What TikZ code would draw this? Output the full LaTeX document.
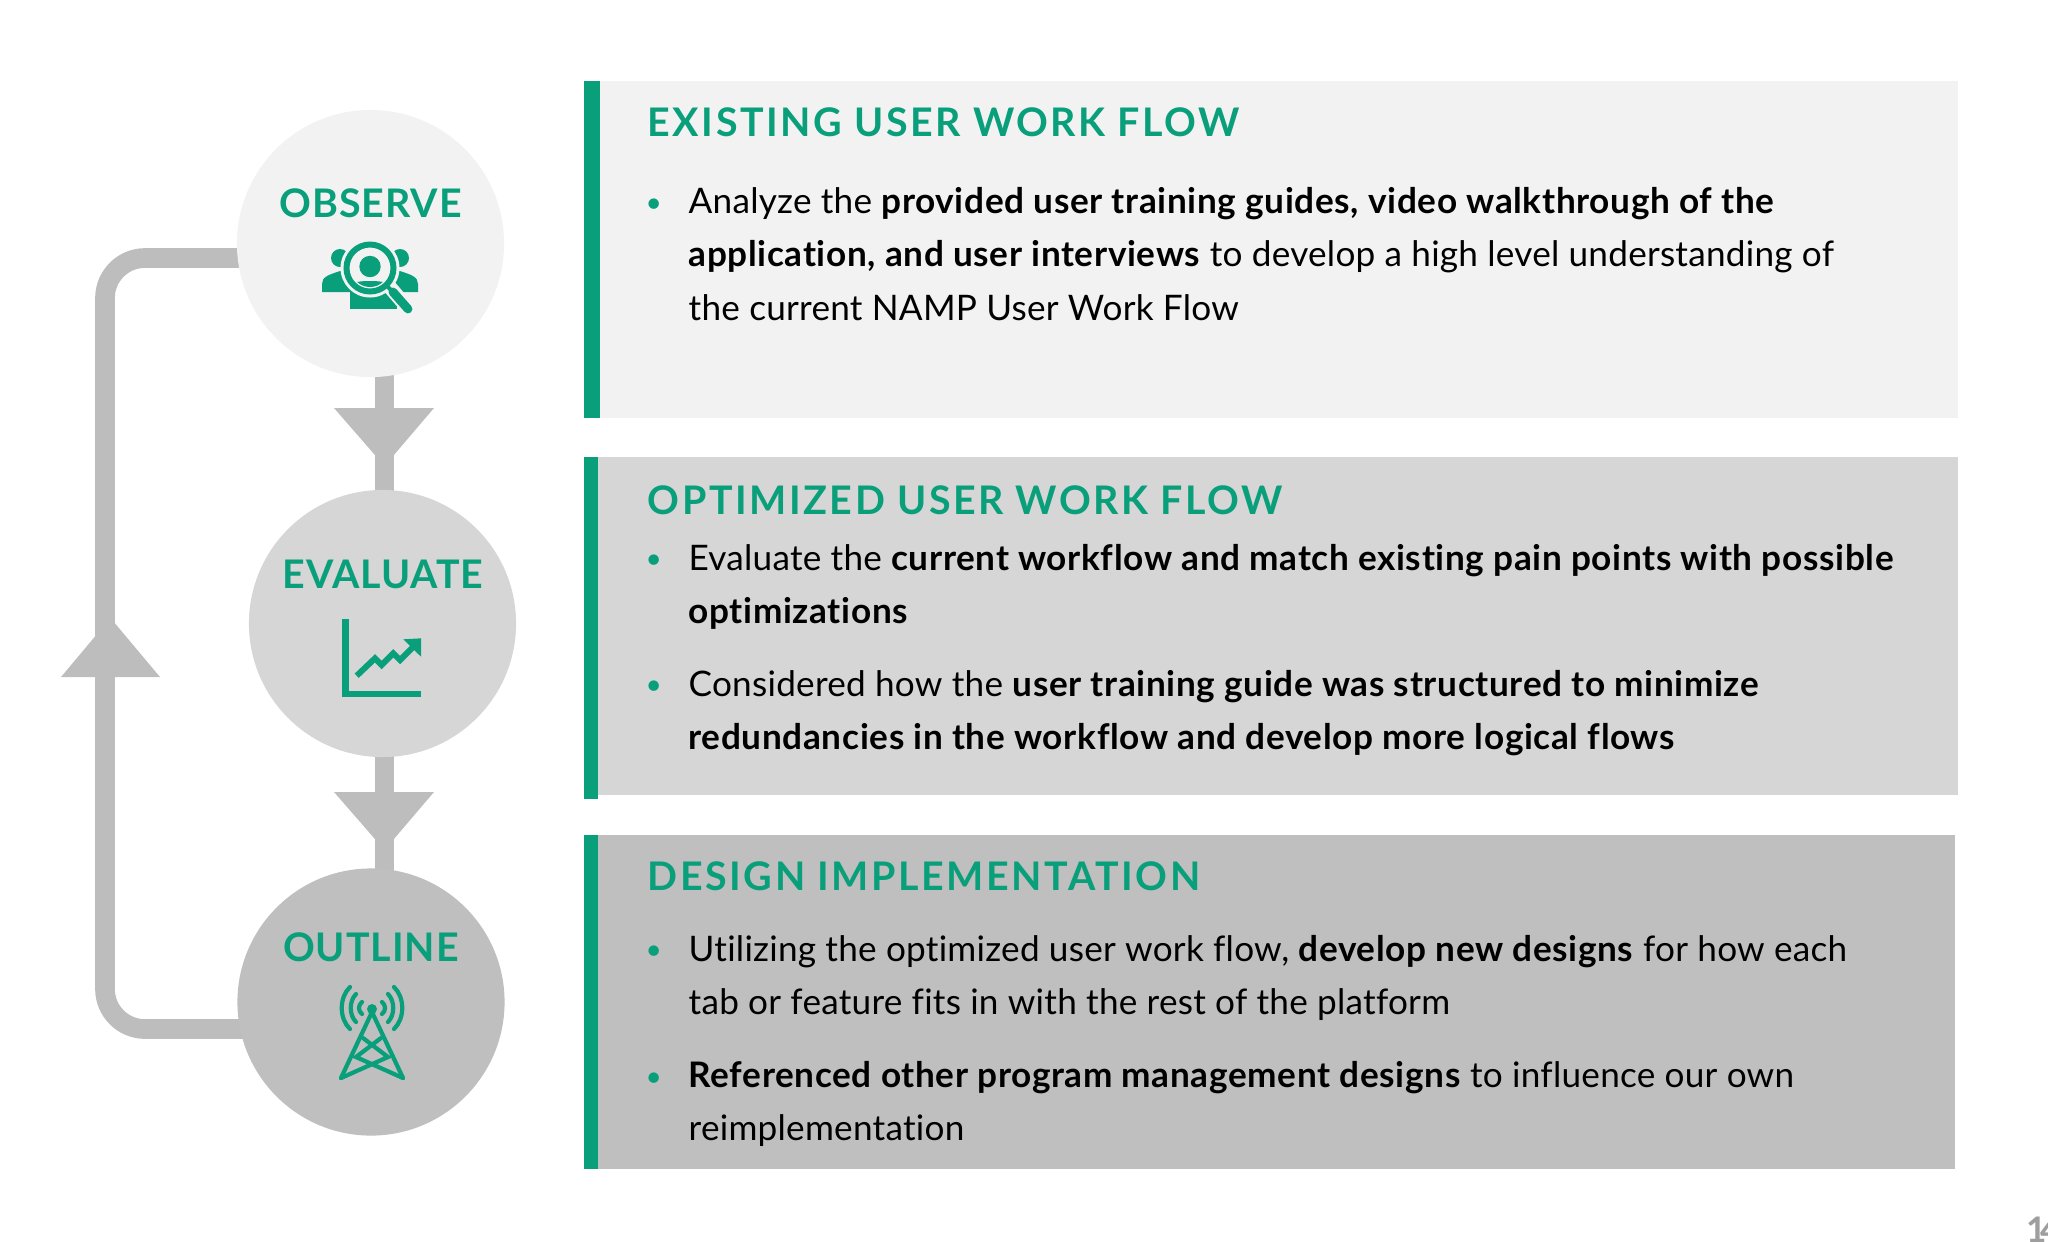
\documentclass[tikz,border=0pt]{standalone}
\usepackage{fontspec}
\setmainfont{Lato}[Ligatures=NoCommon]
\usetikzlibrary{backgrounds}
\definecolor{flowgreen}{HTML}{0A9F7B}
\definecolor{flowgrey}{HTML}{BDBDBD}
\definecolor{paneA}{HTML}{F2F2F2}
\definecolor{paneB}{HTML}{D6D6D6}
\definecolor{paneC}{HTML}{BFBFBF}
\newfontfamily\headfont[LetterSpace=6.5,Ligatures=NoCommon]{Lato}
\newfontfamily\labelfont[LetterSpace=2.5,Ligatures=NoCommon]{Lato}
\newfontfamily\bodyfont[Ligatures=NoCommon,LetterSpace=0.7,BoldFeatures={LetterSpace=1.8}]{Lato}
\tikzset{
  stage/.style={circle,inner sep=0pt,minimum size=2.67cm},
  stagelabel/.style={anchor=base,inner sep=0pt,text=flowgreen,font=\labelfont\fontsize{11.2}{13}\selectfont\bfseries},
  panehead/.style={anchor=base west,inner sep=0pt,text=flowgreen,font=\headfont\fontsize{11.2}{13}\selectfont\bfseries},
  panetext/.style={anchor=north west,inner sep=0pt,align=left,font=\bodyfont\fontsize{10}{15.2}\selectfont},
  panedot/.style={anchor=base west,inner sep=0pt,text=flowgreen,font=\bodyfont\fontsize{8}{10}\selectfont},
  flowline/.style={draw=flowgrey,line width=5.6pt},
}
\begin{document}
\begin{tikzpicture}[x=0.01cm,y=-0.01cm,line cap=butt,line join=miter]
  \useasboundingbox (0,0) rectangle (2048,1241);

  % Stages
  \node[stage,fill=paneA] (observe) at (370.5,243.5) {};
  \node[stage,fill=paneB] (evaluate) at (382.5,623.5) {};
  \node[stage,fill=paneC] (outline) at (371,1002) {};
  \node[stagelabel] (observelabel) at (370.5,217) {OBSERVE};
  \node[stagelabel] (evaluatelabel) at (383,588) {EVALUATE};
  \node[stagelabel] (outlinelabel) at (371,961) {OUTLINE};

  % Connectors behind the stages
  \coordinate (stem) at (384.5,0);
  \coordinate (loopbottom) at (105,1029);
  \coordinate (looptop) at (105,258);
  \begin{scope}[on background layer]
    \draw[flowline] (stem |- observe) -- (stem |- evaluate);
    \draw[flowline] (stem |- evaluate) -- (stem |- outline);
    \draw[flowline,rounded corners=0.4cm] (outline |- loopbottom) -- (loopbottom) -- (looptop) -- (observe |- looptop);
    \fill[flowgrey] (334,408) -- (434,408) -- (384.5,466) -- cycle;
    \fill[flowgrey] (334,792) -- (434,792) -- (384.5,850) -- cycle;
    \fill[flowgrey] (61,677) -- (160,677) -- (110.5,618) -- cycle;
  \end{scope}

  % Observe icon
  \fill[flowgreen] (322,292) -- (322,284) .. controls (322,277) and (328,275) .. (340,271) .. controls (345,270) and (352,272) .. (356,276) -- (352,292) -- cycle;
  \fill[flowgreen] (418,292) -- (418,284) .. controls (418,277) and (412,275) .. (400,271) .. controls (395,270) and (388,272) .. (384,276) -- (388,292) -- cycle;
  \fill[flowgreen] (340,258) circle (9);
  \fill[flowgreen] (400,258) circle (9);
  \fill[flowgreen] (350,290) rectangle (397,309);
  \fill[paneA] (370,268) circle (29.5);
  \draw[paneA,line width=4pt] (388,285) -- (412,313);
  \draw[flowgreen,line width=1.7pt] (370,268) circle (23.5);
  \fill[flowgreen] (370,266.5) circle (10.7);
  \begin{scope}
    \clip (370,268) circle (19);
    \fill[flowgreen] (345,295) .. controls (345,282) and (358,281) .. (370,281) .. controls (382,281) and (395,282) .. (395,295) -- cycle;
  \end{scope}
  \draw[flowgreen,line width=1.2pt] (386,285) -- (393,292);
  \draw[flowgreen,line width=2.5pt,line cap=round] (393,292) -- (408,309);

  % Evaluate icon
  \draw[flowgreen,line width=1.9pt] (345.8,619.3) -- (345.8,694) -- (421,694);
  \draw[flowgreen,line width=1.7pt] (356.7,675.7) -- (375,658.3) -- (381.7,665) -- (393.3,653.3) -- (400,660) -- (413,647);
  \fill[flowgreen] (403.3,639.3) -- (421,638.3) -- (421,656.7) -- cycle;

  % Outline icon
  \begin{scope}[flowgreen,line width=1.2pt,line cap=round]
    \draw (341,1078) -- (372,1012) -- (403,1078);
    \draw (341,1078) -- (388,1057) -- (363,1038);
    \draw (403,1078) -- (356,1057) -- (381,1038);
    \fill (372,1009) circle (5);
    \foreach \sw in {-1,1}
      \foreach \near/\far/\hy in {10/14/6,16/23/14,22/33/21}
        \draw ({372+\sw*\near},{1008-\hy}) .. controls ({372+\sw*\far},{1008-0.5*\hy}) and ({372+\sw*\far},{1008+0.5*\hy}) .. ({372+\sw*\near},{1008+\hy});
  \end{scope}

  % Panels
  \fill[paneA] (599,81) rectangle (1958,418);
  \fill[paneB] (598,457) rectangle (1958,795);
  \fill[paneC] (598,835) rectangle (1955,1169);
  \fill[flowgreen] (584,81) rectangle (600,418);
  \fill[flowgreen] (584,457) rectangle (598,799);
  \fill[flowgreen] (584,835) rectangle (598,1169);

  \node[panehead] (headA) at (647,136) {EXISTING USER WORK FLOW};
  \node[panehead] (headB) at (647,514) {OPTIMIZED USER WORK FLOW};
  \node[panehead] (headC) at (647,890) {DESIGN IMPLEMENTATION};

  \node[panedot] (dotA) at (645,212) {•};
  \node[panedot] (dotB) at (645,568.7) {•};
  \node[panedot] (dotC) at (645,694) {•};
  \node[panedot] (dotD) at (645,959) {•};
  \node[panedot] (dotE) at (645,1086) {•};

  \node[panetext] (textA) at (688,186.5) {Analyze the \textbf{provided user training guides, video walkthrough of the}\\
    \textbf{application, and user interviews} to develop a high level understanding of\\
    the current NAMP User Work Flow};
  \node[panetext] (textB) at (688,543.5) {Evaluate the \textbf{current workflow and match existing pain points with possible}\\
    \textbf{optimizations}};
  \node[panetext] (textC) at (688,669.5) {Considered how the \textbf{user training guide was structured to minimize}\\
    \textbf{redundancies in the workflow and develop more logical flows}};
  \node[panetext] (textD) at (688,934.5) {Utilizing the optimized user work flow, \textbf{develop new designs} for how each\\
    tab or feature fits in with the rest of the platform};
  \node[panetext] (textE) at (688,1060.5) {\textbf{Referenced other program management designs} to influence our own\\
    reimplementation};

  \node[anchor=base west,inner sep=0pt,text=black!38,font=\fontsize{10}{12}\selectfont\bfseries] (pagenum) at (2026,1242) {1\kern-2pt 4};
\end{tikzpicture}
\end{document}
